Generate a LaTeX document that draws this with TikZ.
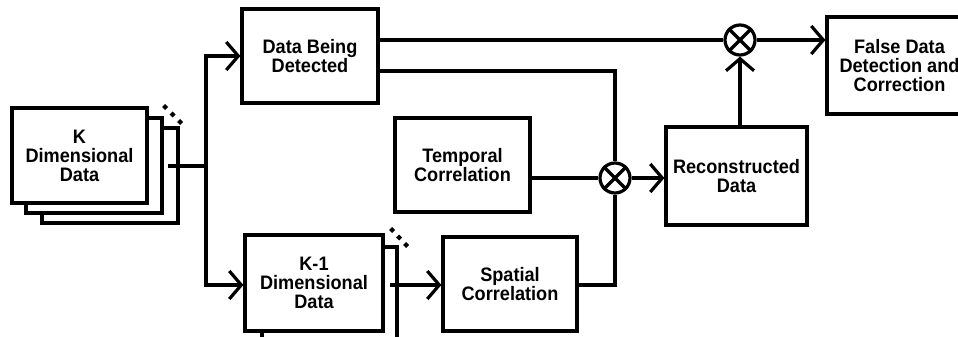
\documentclass[tikz,border=0pt]{standalone}
\usepackage{fontspec}
\setmainfont{Liberation Sans}[FakeStretch=0.93]
\usetikzlibrary{arrows.meta}
\begin{document}
\begin{tikzpicture}[x=1pt,y=-1pt,
  lw/.style={line width=3.2pt},
  blk/.style={lw,draw=black,fill=white,inner sep=0pt,align=center,
    font=\fontsize{19.5pt}{19pt}\selectfont\bfseries},
  mult/.style={lw,draw=black,fill=white,circle,minimum size=30pt,inner sep=0pt},
  conn/.style={lw,line cap=butt},
  arr/.style={conn,-{Straight Barb[length=12pt,width=28pt]}},
  dot/.style={fill=black}
]
\useasboundingbox (0,0) rectangle (958,337);
% K dimensional stack
\node[blk,minimum width=136pt,minimum height=95pt] (kc) at (110,175.5) {};
\node[blk,minimum width=136pt,minimum height=95pt] (kb) at (94,165.5) {};
\node[blk,minimum width=135pt,minimum height=95pt] (kf) at (79.5,155.5) {K\\Dimensional\\Data};
\foreach \p in {(165,107),(172.5,114.5),(180,122)}
  \fill[dot] \p ++(0,-3) -- ++(3,3) -- ++(-3,3) -- ++(-3,-3) -- cycle;
% K-1 stack
\node[blk,minimum width=135pt,minimum height=98pt] (k1b) at (329.5,296) {};
\node[blk,minimum width=138pt,minimum height=96pt] (k1) at (314,283) {K-1\\Dimensional\\Data};
\foreach \p in {(392,230),(399,237.5),(406,245)}
  \fill[dot] \p ++(0,-3) -- ++(3,3) -- ++(-3,3) -- ++(-3,-3) -- cycle;
% other blocks
\node[blk,minimum width=136pt,minimum height=94pt] (dbd) at (310,56) {Data Being\\Detected};
\node[blk,minimum width=135pt,minimum height=94pt] (temp) at (462.5,165) {Temporal\\Correlation};
\node[blk,minimum width=134pt,minimum height=94pt] (spat) at (510,284) {Spatial\\Correlation};
\node[blk,minimum width=141pt,minimum height=98pt] (recon) at (736.5,176) {Reconstructed\\Data};
\node[blk,minimum width=145pt,minimum height=97pt] (fd) at (899.5,65.5) {False Data\\Detection and\\Correction};
% multipliers
\node[mult] (ot1) at (740,40) {};
\node[mult] (ot2) at (615,178) {};
\draw[lw] (ot1.north west) -- (ot1.south east) (ot1.north east) -- (ot1.south west);
\draw[lw] (ot2.north west) -- (ot2.south east) (ot2.north east) -- (ot2.south west);
% connectors
\coordinate (kout) at (168,166);
\coordinate (spine) at (206,166);
\coordinate (k1out) at (390,285);
\draw[conn] (kout) -- (spine);
\draw[arr] (spine) |- (dbd.west);
\draw[arr] (spine) |- (k1.west |- k1out);
\draw[arr] (k1out) -- (spat.west |- k1out);
\draw[conn] (dbd.east |- ot1) -- (ot1.west);
\draw[conn] (dbd.east |- 0,71) -| (ot2.north);
\draw[conn] (spat.east |- k1out) -| (ot2.south);
\draw[conn] (temp.east |- ot2) -- (ot2.west);
\draw[arr] (ot2.east) -- (recon.west |- ot2);
\draw[arr] (recon.north -| ot1) -- (ot1.south);
\draw[arr] (ot1.east) -- (fd.west |- ot1);
\end{tikzpicture}
\end{document}
